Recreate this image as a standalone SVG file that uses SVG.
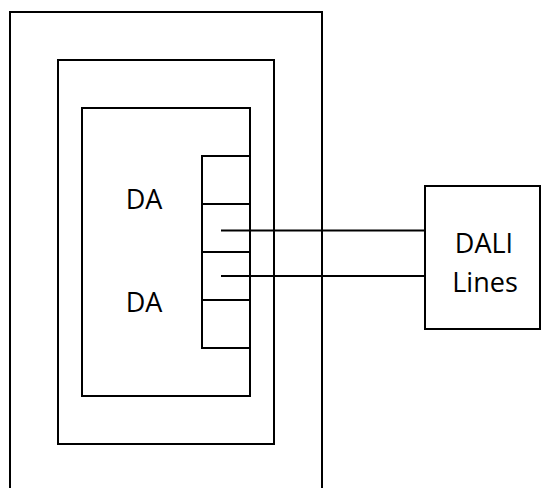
<svg xmlns="http://www.w3.org/2000/svg" width="541" height="488" viewBox="0 0 541 488">
<style>
.b{fill:none;stroke:#000;stroke-width:2}
.t{font-family:"Open Sans","Liberation Sans",sans-serif;font-size:27px;fill:#000;text-anchor:middle}
</style>
<rect width="541" height="488" fill="#fff"/>
<g id="outer"><rect class="b" x="10" y="12" width="312" height="490"/></g>
<g id="middle"><rect class="b" x="58" y="60" width="216" height="384"/></g>
<g id="inner"><rect class="b" x="82" y="108" width="168" height="288"/>
<text class="t" x="144" y="209">DA</text>
<text class="t" x="144" y="312">DA</text></g>
<g id="terminals">
<rect class="b" x="202" y="156" width="48" height="192"/>
<path class="b" d="M202 204H250M202 252H250M202 300H250"/>
</g>
<g id="dali"><rect class="b" x="425" y="186" width="115" height="143"/>
<text class="t" x="484" y="253">DALI</text>
<text class="t" x="485" y="292">Lines</text></g>
<g id="connectors">
<path class="b" d="M221 230.5H425M221 276H425"/>
</g>
</svg>
